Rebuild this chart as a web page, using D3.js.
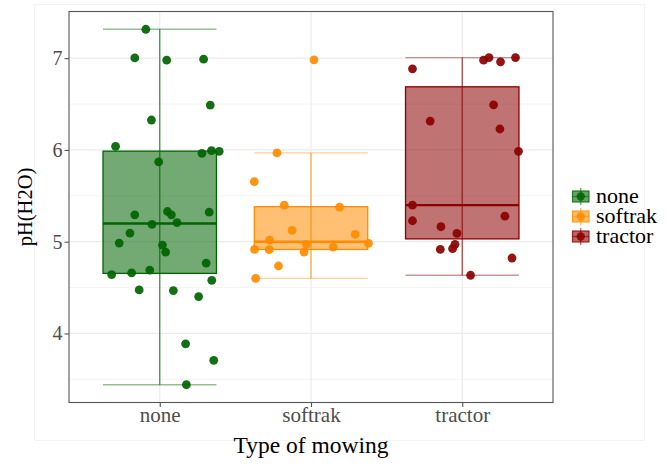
<!DOCTYPE html>
<html>
<head>
<meta charset="utf-8">
<script src="https://cdn.jsdelivr.net/npm/d3@7"></script>
<style>
  html, body { margin: 0; padding: 0; background: #fff; }
  svg { display: block; font-family: "Liberation Serif", "Times New Roman", serif; }
</style>
</head>
<body>
<svg id="chart" width="668" height="466"></svg>
<script>
// Mowing types and their colours
const categories = ["none", "softrak", "tractor"];
const colors = ["#006400", "#ff8c00", "#8b0000"];

// pH(H2O) measurements per mowing type
const noneValues = [7.315, 7.003, 6.978, 6.989, 6.489, 6.326, 6.039, 5.963, 5.992, 5.985, 5.870,
  5.293, 5.329, 5.293, 5.322, 5.188, 5.207, 5.094, 4.985, 4.963, 4.887, 4.767, 4.641, 4.659,
  4.691, 4.579, 4.474, 4.467, 4.402, 3.887, 3.707, 3.441];
const softrakValues = [6.982, 5.967, 5.655, 5.398, 5.376, 5.123, 5.079, 5.017, 4.971, 4.982,
  4.916, 4.913, 4.887, 4.941, 4.735, 4.601];
const tractorValues = [6.884, 6.978, 7.007, 6.960, 7.007, 6.492, 6.315, 6.228, 5.985, 5.398,
  5.228, 5.278, 5.163, 5.090, 4.971, 4.924, 4.916, 4.822, 4.634];

// Horizontal jitter of each point, as a fraction of the category spacing
const noneJitter = [-0.092, -0.165, 0.046, 0.290, 0.334, -0.055, -0.292, 0.279, 0.342, 0.393, -0.007,
  -0.165, 0.051, 0.077, 0.327, -0.051, 0.114, -0.197, -0.268, 0.018, 0.039, 0.307, -0.318, -0.186,
  -0.066, 0.344, -0.136, 0.090, 0.257, 0.171, 0.357, 0.176];
const softrakJitter = [0.020, -0.225, -0.375, -0.177, 0.189, -0.125, 0.292, -0.274, -0.031, 0.380,
  -0.373, -0.276, -0.046, 0.147, -0.215, -0.366];
const tractorJitter = [-0.329, 0.141, 0.177, 0.253, 0.352, 0.207, -0.212, 0.249, 0.372, -0.329,
  -0.329, 0.282, -0.141, -0.035, -0.048, -0.064, -0.145, 0.329, 0.055];

const yTicks = [4, 5, 6, 7];
const yMinorTicks = [3.5, 4.5, 5.5, 6.5];

const groups = categories.map((c, i) => ({
  name: c,
  color: colors[i],
  values: [noneValues, softrakValues, tractorValues][i],
  jitter: [noneJitter, softrakJitter, tractorJitter][i]
}));

const svg = d3.select("#chart");

const panel = { left: 69, right: 553, top: 11.5, bottom: 402.5 };

// Scales (5% expansion on the continuous axis, 0.6 on the discrete one)
const allValues = groups.flatMap(g => g.values);
const [vmin, vmax] = d3.extent(allValues);
const pad = (vmax - vmin) * 0.05;
const y = d3.scaleLinear().domain([vmin - pad, vmax + pad]).range([panel.bottom, panel.top]);
const x = d3.scalePoint().domain(categories).range([panel.left, panel.right]).padding(0.6);
const step = x.step();
const halfBox = step * 0.375;

// Plot background outline
svg.append("rect")
  .attr("x", 34.5).attr("y", 4.5).attr("width", 610).attr("height", 436)
  .attr("fill", "#fff").attr("stroke", "#f3f3f3").attr("stroke-width", 1);

// Grid
const grid = svg.append("g");
grid.selectAll(".minor").data(yMinorTicks).join("line")
  .attr("x1", panel.left).attr("x2", panel.right)
  .attr("y1", d => y(d)).attr("y2", d => y(d))
  .attr("stroke", "#f4f4f4").attr("stroke-width", 1);
grid.selectAll(".major").data(yTicks).join("line")
  .attr("x1", panel.left).attr("x2", panel.right)
  .attr("y1", d => y(d)).attr("y2", d => y(d))
  .attr("stroke", "#ebebeb").attr("stroke-width", 1.2);
grid.selectAll(".vmajor").data(categories).join("line")
  .attr("x1", d => x(d)).attr("x2", d => x(d))
  .attr("y1", panel.top).attr("y2", panel.bottom)
  .attr("stroke", "#ebebeb").attr("stroke-width", 1.2);

// Box statistics (R type-7 quantiles, whiskers at 1.5 IQR)
groups.forEach(g => {
  const s = g.values.slice().sort(d3.ascending);
  g.q1 = d3.quantile(s, 0.25);
  g.med = d3.quantile(s, 0.5);
  g.q3 = d3.quantile(s, 0.75);
  const iqr = g.q3 - g.q1;
  g.lo = d3.min(s.filter(v => v >= g.q1 - 1.5 * iqr));
  g.hi = d3.max(s.filter(v => v <= g.q3 + 1.5 * iqr));
});

const layer = svg.append("g");

// Error bars (whiskers with caps)
groups.forEach(g => {
  const cx = x(g.name);
  const e = layer.append("g").attr("stroke", g.color).attr("stroke-opacity", 0.42).attr("stroke-width", 1.3);
  e.append("line").attr("x1", cx).attr("x2", cx).attr("y1", y(g.hi)).attr("y2", y(g.lo))
    .attr("stroke-opacity", 0.7);
  e.append("line").attr("x1", cx - halfBox).attr("x2", cx + halfBox).attr("y1", y(g.hi)).attr("y2", y(g.hi));
  e.append("line").attr("x1", cx - halfBox).attr("x2", cx + halfBox).attr("y1", y(g.lo)).attr("y2", y(g.lo));
});

// Boxes with median line
groups.forEach(g => {
  const cx = x(g.name);
  layer.append("rect")
    .attr("x", cx - halfBox).attr("y", y(g.q3))
    .attr("width", halfBox * 2).attr("height", y(g.q1) - y(g.q3))
    .attr("fill", g.color).attr("fill-opacity", 0.55)
    .attr("stroke", g.color).attr("stroke-width", 1.3);
  layer.append("line")
    .attr("x1", cx - halfBox).attr("x2", cx + halfBox)
    .attr("y1", y(g.med)).attr("y2", y(g.med))
    .attr("stroke", g.color).attr("stroke-width", 2.4);
});

// Jittered points
groups.forEach(g => {
  layer.append("g").selectAll("circle")
    .data(g.values.map((v, i) => ({ v, j: g.jitter[i] })))
    .join("circle")
    .attr("cx", d => x(g.name) + d.j * step)
    .attr("cy", d => y(d.v))
    .attr("r", 4.4)
    .attr("fill", g.color)
    .attr("fill-opacity", 0.92);
});

// Panel border
svg.append("rect")
  .attr("x", panel.left).attr("y", panel.top)
  .attr("width", panel.right - panel.left).attr("height", panel.bottom - panel.top)
  .attr("fill", "none").attr("stroke", "#555").attr("stroke-width", 1.1);

// Y axis
const yAxis = svg.append("g")
  .attr("transform", `translate(${panel.left},0)`)
  .call(d3.axisLeft(y).tickValues(yTicks).tickSize(4.5).tickPadding(2).tickFormat(d3.format("d")));
yAxis.select(".domain").remove();
yAxis.selectAll(".tick line").attr("stroke", "#555").attr("stroke-width", 1.1);
yAxis.selectAll(".tick text")
  .attr("fill", "#4d4d4d").attr("font-size", 20)
  .attr("font-family", "Liberation Serif");

// X axis
const xAxis = svg.append("g")
  .attr("transform", `translate(0,${panel.bottom})`)
  .call(d3.axisBottom(x).tickSize(4.5).tickPadding(0));
xAxis.select(".domain").remove();
xAxis.selectAll(".tick line").attr("stroke", "#555").attr("stroke-width", 1.1);
xAxis.selectAll(".tick text")
  .attr("fill", "#4d4d4d").attr("font-size", 21)
  .attr("font-family", "Liberation Serif");

// Axis titles
svg.append("text")
  .attr("x", (panel.left + panel.right) / 2).attr("y", 453)
  .attr("text-anchor", "middle").attr("font-size", 23.5).attr("fill", "#000")
  .text("Type of mowing");
svg.append("text")
  .attr("transform", `translate(32,${(panel.top + panel.bottom) / 2}) rotate(-90)`)
  .attr("text-anchor", "middle").attr("font-size", 20.5).attr("fill", "#000")
  .text("pH(H2O)");

// Legend
const legend = svg.append("g");
const keyW = 17.5, rowH = 20, legendTop = 196.5;
groups.forEach((g, i) => {
  const cy = legendTop + i * rowH;
  const k = legend.append("g").attr("transform", `translate(572,${cy})`);
  k.append("line").attr("x1", keyW / 2).attr("x2", keyW / 2).attr("y1", -8.5).attr("y2", 8.5)
    .attr("stroke", g.color).attr("stroke-opacity", 0.6).attr("stroke-width", 1.3);
  k.append("rect").attr("x", 0.5).attr("y", -5.5).attr("width", keyW - 1).attr("height", 11)
    .attr("fill", g.color).attr("fill-opacity", 0.6)
    .attr("stroke", g.color).attr("stroke-opacity", 0.8).attr("stroke-width", 1.2);
  k.append("line").attr("x1", 0.5).attr("x2", keyW - 0.5).attr("y1", 0).attr("y2", 0)
    .attr("stroke", g.color).attr("stroke-opacity", 0.6).attr("stroke-width", 1.3);
  k.append("circle").attr("cx", keyW / 2).attr("cy", 0).attr("r", 4.2)
    .attr("fill", g.color).attr("fill-opacity", 0.85);
  legend.append("text")
    .attr("x", 596).attr("y", cy + 6)
    .attr("font-size", 22).attr("fill", "#000")
    .text(g.name);
});
</script>
</body>
</html>
